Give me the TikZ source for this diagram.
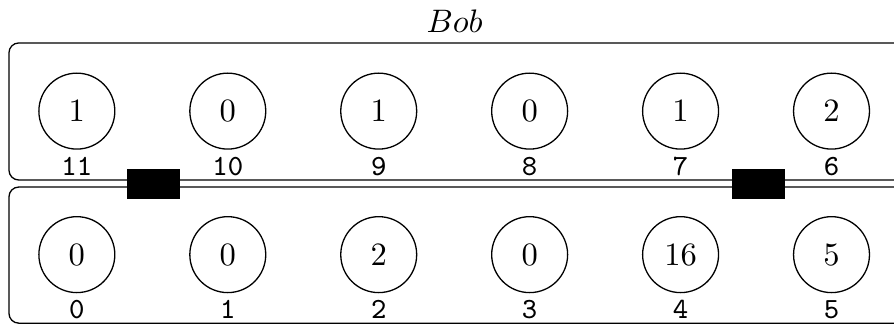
\documentclass[tikz,border=0pt]{standalone}
\usetikzlibrary{positioning}
\tikzset{
        cell/.style={draw, circle, minimum size=0.82cm, inner sep=0pt},
        idx/.style={font=\small\ttfamily, inner sep=0pt},
        lane/.style={draw, rounded corners=3pt},
        gate/.style={fill=black, minimum width=0.57cm, minimum height=0.325cm, inner sep=0pt},
    }
\begin{document}
\begin{tikzpicture}[x = 1cm]
                \useasboundingbox (0,0) rectangle (9.655,3.52);
                \clip (0,0) rectangle (9.655,3.52);
                \node (bob) at (4.91,3.29) {$Bob$};
                % the two rows
                \draw[lane] (0.097,1.576) rectangle (10.3,3.056);
                \draw[lane] (0.097,0.03) rectangle (10.3,1.50);
                \foreach \v [count=\i from 0] in {1,0,1,0,1,2}
                {
                    \pgfmathtruncatemacro\k{11-\i}
                    \node[cell] (c\k) at (0.83+1.63*\i,2.32) {$\v$};
                    \node[idx, below=0.07cm of c\k] (n\k) {\k};
                }
                \foreach \v [count=\i from 0] in {0,0,2,0,16,5}
                {
                    \node[cell] (c\i) at (0.83+1.63*\i,0.77) {$\v$};
                    \node[idx, below=0.07cm of c\i] (n\i) {\i};
                }
                \node[gate] (g1) at (1.658,1.533) {};
                \node[gate] (g2) at (8.19,1.533) {};
            \end{tikzpicture}
\end{document}
